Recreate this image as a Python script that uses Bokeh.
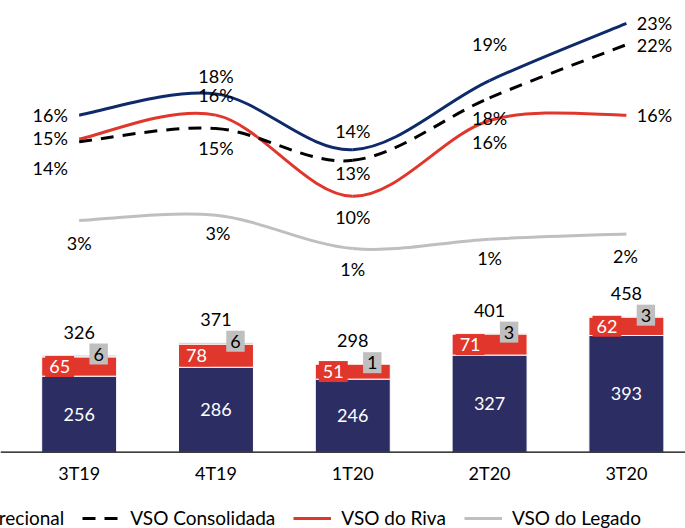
from bokeh.plotting import figure
from bokeh.models import ColumnDataSource, Range1d, Legend, LegendItem, Span
from bokeh.core.properties import value
from bokeh.embed import file_html
from bokeh.resources import INLINE

# ---------------- data ----------------
quarters = ["3T19", "4T19", "1T20", "2T20", "3T20"]
vendas_direcional = [256, 286, 246, 327, 393]
vendas_riva = [65, 78, 51, 71, 62]
vendas_legado = [6, 6, 1, 3, 3]
vendas_total = [326, 371, 298, 401, 458]

vso_direcional = [16.4, 18.0, 13.8, 19.0, 23.3]
vso_consolidada = [14.4, 15.4, 13.0, 17.7, 21.7]
vso_riva = [14.6, 16.4, 10.3, 16.0, 16.4]
vso_legado = [2.7, 3.1, 0.6, 1.3, 1.7]

# ---------------- style / layout ----------------
NAVY_BAR = "#2C2E63"
NAVY_LINE = "#0E2A6A"
RED = "#E1362C"
GRAY = "#BFBFBF"
FONT = "Lato"
FS = "18px"

# label offsets in screen px (dx, dy; +dy = down)
off_dir = ([-29, 0, 0, 0, 28], [0, -18, -19, -37, 0])
off_cons = ([-29, 0, 0, 0, 28], [26, 20, 13, 20, 0])
off_riva = ([-29, 0, 0, 0, 28], [-1, -20, 21, 22, 0])
off_leg = ([0, 2, 0, 0, -1], [22, 18, 20, 19, 22])

xs = list(range(len(quarters)))

p = figure(width=685, height=528, output_backend="svg", toolbar_location=None,
           x_range=Range1d(-0.575, 4.432), y_range=Range1d(-256.9, 1520.9),
           x_axis_location=None, y_axis_location=None,
           min_border=0)
p.outline_line_color = None
p.xgrid.visible = False
p.ygrid.visible = False
p.background_fill_color = "white"
p.border_fill_color = "white"
p.extra_y_ranges = {"pct": Range1d(-14.68, 25.02), "pct2": Range1d(-20.45, 19.25)}

# ---------------- bars ----------------
dr = [a + b for a, b in zip(vendas_direcional, vendas_riva)]
top_all = [a + b for a, b in zip(dr, vendas_legado)]
bsrc = ColumnDataSource(dict(
    x=xs, dir=vendas_direcional, riva=vendas_riva, leg=vendas_legado,
    mid_dir=[v / 2 for v in vendas_direcional],
    mid_riva=[a + b / 2 for a, b in zip(vendas_direcional, vendas_riva)],
    top=top_all, base=[0] * len(xs), cat=quarters,
    t_dir=[str(v) for v in vendas_direcional],
    t_riva=[str(v) for v in vendas_riva],
    t_leg=[str(v) for v in vendas_legado],
    t_tot=[str(v) for v in vendas_total],
))
p.vbar_stack(["dir", "riva", "leg"], x="x", width=0.548, source=bsrc,
             color=[NAVY_BAR, RED, GRAY], line_color="white", line_width=1)

# baseline (category axis line) and category labels
p.add_layout(Span(location=0, dimension="width", line_color="black", line_width=1.3))

# ---------------- smooth lines (bezier through data points) ----------------
def bezier_source(yv):
    n = len(xs)
    d = dict(x0=[], y0=[], x1=[], y1=[], cx0=[], cy0=[], cx1=[], cy1=[])
    for i in range(n - 1):
        xp, yp = (xs[i - 1], yv[i - 1]) if i > 0 else (xs[i], yv[i])
        xn, yn = (xs[i + 2], yv[i + 2]) if i + 2 < n else (xs[i + 1], yv[i + 1])
        d["x0"].append(xs[i]); d["y0"].append(yv[i])
        d["x1"].append(xs[i + 1]); d["y1"].append(yv[i + 1])
        d["cx0"].append(xs[i] + (xs[i + 1] - xp) / 6)
        d["cy0"].append(yv[i] + (yv[i + 1] - yp) / 6)
        d["cx1"].append(xs[i + 1] - (xn - xs[i]) / 6)
        d["cy1"].append(yv[i + 1] - (yn - yv[i]) / 6)
    return ColumnDataSource(d)

def smooth(yv, color, rng, dash="solid"):
    return p.bezier(x0="x0", y0="y0", x1="x1", y1="y1", cx0="cx0", cy0="cy0",
                    cx1="cx1", cy1="cy1", source=bezier_source(yv), line_color=color,
                    line_width=3, line_dash=dash, y_range_name=rng)

r_leg = smooth(vso_legado, GRAY, "pct2")
r_riva = smooth(vso_riva, RED, "pct")
r_cons = smooth(vso_consolidada, "black", "pct", dash="13 9")
r_dir = smooth(vso_direcional, NAVY_LINE, "pct")

def pct_labels(yv, off, rng):
    src = ColumnDataSource(dict(x=xs, y=yv, t=[f"{v:.0f}%" for v in yv],
                                dx=off[0], dy=off[1]))
    p.text(x="x", y="y", text="t", x_offset="dx", y_offset="dy", source=src,
           y_range_name=rng, text_font=value(FONT), text_font_size=FS,
           text_color="black", text_align="center", text_baseline="middle")

pct_labels(vso_direcional, off_dir, "pct")
pct_labels(vso_consolidada, off_cons, "pct")
pct_labels(vso_riva, off_riva, "pct")
pct_labels(vso_legado, off_leg, "pct2")

# ---------------- bar labels ----------------
common = dict(source=bsrc, text_font=value(FONT), text_font_size=FS,
              text_align="center", text_baseline="middle")
p.text(x="x", y="mid_dir", text="t_dir", text_color="white", **common)
p.text(x="x", y="mid_riva", text="t_riva", text_color="white", x_offset=-19.5,
       background_fill_color=RED, padding=4, **common)
p.text(x="x", y="top", text="t_leg", text_color="black", x_offset=19.5, y_offset=-1,
       background_fill_color=GRAY, padding=4, **common)
p.text(x="x", y="top", text="t_tot", text_color="black", y_offset=-23, **common)
p.text(x="x", y="base", text="cat", text_color="black", y_offset=21, **common)

# ---------------- legend ----------------
legend = Legend(items=[
    LegendItem(label="VSO Direcional", renderers=[r_dir]),
    LegendItem(label="VSO Consolidada", renderers=[r_cons]),
    LegendItem(label="VSO do Riva", renderers=[r_riva]),
    LegendItem(label="VSO do Legado", renderers=[r_leg]),
], orientation="horizontal", location=(-111, -1), glyph_width=38, glyph_height=20,
    label_standoff=10, spacing=18, padding=0, margin=0, border_line_alpha=0,
    background_fill_alpha=0, label_text_font=FONT, label_text_font_size="19px",
    label_text_color="black")
p.add_layout(legend)

open("out.html", "w").write(file_html(p, INLINE))
